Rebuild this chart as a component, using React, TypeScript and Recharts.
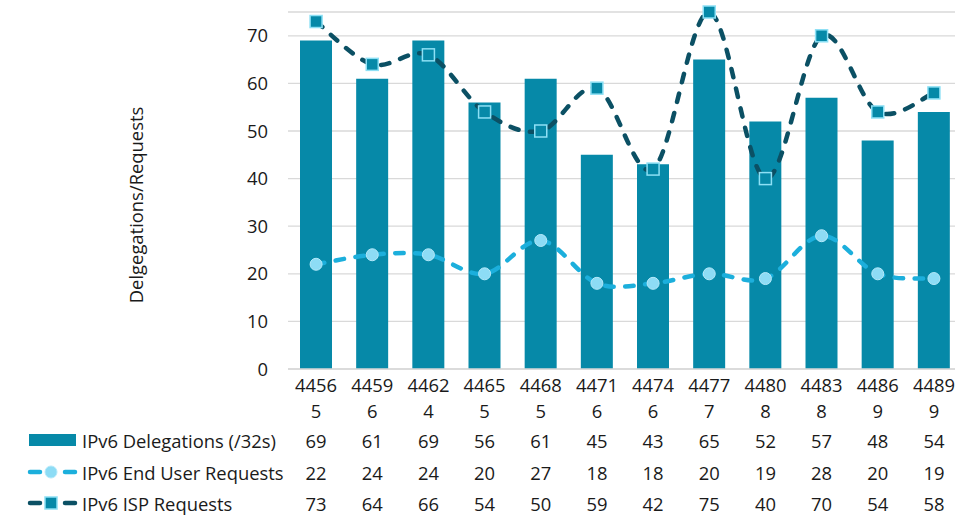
import { Bar, ComposedChart, Line, XAxis, YAxis, CartesianGrid } from "recharts";

const categories = ["44565", "44596", "44624", "44655", "44685", "44716", "44746", "44777", "44808", "44838", "44869", "44899"];
const delegations = [69, 61, 69, 56, 61, 45, 43, 65, 52, 57, 48, 54];
const endUser = [22, 24, 24, 20, 27, 18, 18, 20, 19, 28, 20, 19];
const isp = [73, 64, 66, 54, 50, 59, 42, 75, 40, 70, 54, 58];
const yTicks = [0, 10, 20, 30, 40, 50, 60, 70];

const BAR = "#0689a8";
const EU = "#1cafdc";
const EU_DOT = "#8ddcf5";
const ISP = "#0b5064";
const ISP_DOT_STROKE = "#8de0f5";
const FONT = "'Open Sans', 'Noto Sans', sans-serif";
const FS = 18.4;
const TXT = "#1a1a1a";

const data = categories.map((c, i) => ({
  cat: c,
  delegations: delegations[i],
  endUser: endUser[i],
  isp: isp[i],
}));

// Excel-style smoothed line (catmull-rom with 1/6 bezier handles)
function excelCurve(context: any) {
  let pts: number[][] = [];
  return {
    areaStart() {},
    areaEnd() {},
    lineStart() {
      pts = [];
    },
    point(x: number, y: number) {
      pts.push([+x, +y]);
    },
    lineEnd() {
      if (!pts.length) return;
      context.moveTo(pts[0][0], pts[0][1]);
      for (let i = 0; i < pts.length - 1; i++) {
        const p0 = pts[i - 1] || pts[i];
        const p1 = pts[i];
        const p2 = pts[i + 1];
        const p3 = pts[i + 2] || p2;
        context.bezierCurveTo(
          p1[0] + (p2[0] - p0[0]) / 6,
          p1[1] + (p2[1] - p0[1]) / 6,
          p2[0] - (p3[0] - p1[0]) / 6,
          p2[1] - (p3[1] - p1[1]) / 6,
          p2[0],
          p2[1]
        );
      }
    },
  };
}

const rowY = [440, 472, 503];

function TableTick({ x, payload, index }: any) {
  const v = String(payload.value);
  const i = index ?? categories.indexOf(v);
  const vals = [delegations[i], endUser[i], isp[i]];
  return (
    <g fontFamily={FONT} fontSize={FS} fill={TXT}>
      <text x={x} y={384} textAnchor="middle" dominantBaseline="central">{v.slice(0, 4)}</text>
      <text x={x} y={410} textAnchor="middle" dominantBaseline="central">{v.slice(4)}</text>
      {vals.map((val, k) => (
        <text key={k} x={x} y={rowY[k]} textAnchor="middle" dominantBaseline="central">{val}</text>
      ))}
    </g>
  );
}

function IspDot({ cx, cy, index }: any) {
  return <rect key={`isp-${index}`} x={cx - 6} y={cy - 6} width={12} height={12} fill={BAR} stroke={ISP_DOT_STROKE} strokeWidth={1.5} />;
}

function EuDot({ cx, cy, index }: any) {
  return <circle key={`eu-${index}`} cx={cx} cy={cy} r={6} fill={EU_DOT} stroke="#b5e9fa" strokeWidth={1} />;
}

function Legend() {
  return (
    <svg width={290} height={519} style={{ position: "absolute", left: 0, top: 0 }}>
      <g fontFamily={FONT} fontSize={FS} fill={TXT}>
        <rect x={29} y={434} width={47} height={12} fill={BAR} />
        <text x={82} y={rowY[0]} dominantBaseline="central">IPv6 Delegations (/32s)</text>

        <line x1={30} y1={rowY[1]} x2={40} y2={rowY[1]} stroke={EU} strokeWidth={4.5} strokeLinecap="round" />
        <circle cx={51} cy={rowY[1]} r={6} fill={EU_DOT} stroke="#b5e9fa" strokeWidth={1} />
        <line x1={65} y1={rowY[1]} x2={75} y2={rowY[1]} stroke={EU} strokeWidth={4.5} strokeLinecap="round" />
        <text x={82} y={rowY[1]} dominantBaseline="central">IPv6 End User Requests</text>

        <line x1={30} y1={rowY[2]} x2={40} y2={rowY[2]} stroke={ISP} strokeWidth={4.5} strokeLinecap="round" />
        <rect x={45} y={rowY[2] - 6} width={12} height={12} fill={BAR} stroke={ISP_DOT_STROKE} strokeWidth={1.5} />
        <line x1={65} y1={rowY[2]} x2={75} y2={rowY[2]} stroke={ISP} strokeWidth={4.5} strokeLinecap="round" />
        <text x={82} y={rowY[2]} dominantBaseline="central">IPv6 ISP Requests</text>
      </g>
    </svg>
  );
}

export default function App() {
  return (
    <div style={{ position: "absolute", left: 0, top: 0, width: 955, height: 519, overflow: "hidden", background: "#fff" }}>
      <ComposedChart width={970} height={519} data={data} margin={{ top: 12, right: 8, left: 0, bottom: 0 }}>
        <CartesianGrid vertical={false} stroke="#d9d9d9" strokeWidth={1.3} />
        <XAxis
          dataKey="cat"
          height={150}
          interval={0}
          tickLine={false}
          axisLine={{ stroke: "#d9d9d9", strokeWidth: 1.3 }}
          tick={<TableTick />}
        />
        <YAxis
          width={288}
          domain={[0, 75]}
          ticks={yTicks}
          tickLine={false}
          axisLine={false}
          tickSize={0}
          tickMargin={20}
          tick={{ fontFamily: FONT, fontSize: FS, fill: TXT }}
          label={{
            content: () => (
              <text
                x={135}
                y={205}
                transform="rotate(-90 135 205)"
                textAnchor="middle"
                dominantBaseline="central"
                fontFamily={FONT}
                fontSize={FS}
                fill={TXT}
              >
                Delgegations/Requests
              </text>
            ),
          }}
        />
        <Bar dataKey="delegations" fill={BAR} barSize={32} isAnimationActive={false} />
        <Line
          dataKey="endUser"
          type={excelCurve as any}
          stroke={EU}
          strokeWidth={4.5}
          strokeDasharray="8.5 11.5"
          strokeLinecap="round"
          dot={<EuDot />}
          activeDot={false}
          isAnimationActive={false}
        />
        <Line
          dataKey="isp"
          type={excelCurve as any}
          stroke={ISP}
          strokeWidth={4.5}
          strokeDasharray="8.5 11.5"
          strokeLinecap="round"
          dot={<IspDot />}
          activeDot={false}
          isAnimationActive={false}
        />
      </ComposedChart>
      <Legend />
    </div>
  );
}
